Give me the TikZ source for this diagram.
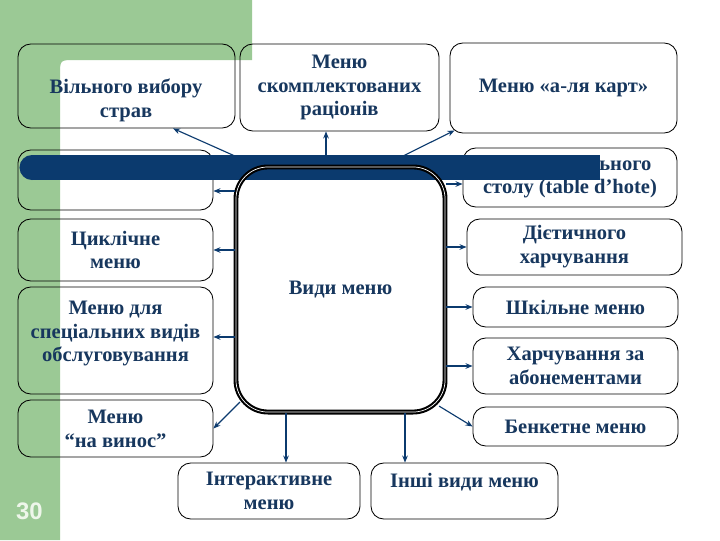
\documentclass[tikz,border=0pt]{standalone}
\usepackage{fontspec}
\setmainfont{Liberation Serif}
\setsansfont{Liberation Sans}
\usepackage{tikz}
\usetikzlibrary{arrows.meta}
\definecolor{menugreen}{HTML}{9BC995}
\definecolor{menunavy}{HTML}{0B3A6E}
\definecolor{menuink}{HTML}{17375E}
\definecolor{menupage}{HTML}{EEF6EA}

\begin{document}
\begin{tikzpicture}[x=0.025cm, y=-0.025cm,
  every node/.style={font=\fontsize{14.6}{17}\selectfont\bfseries, text=menuink},
  menubox/.style={draw=black, line width=0.6pt, rounded corners=0.32cm, align=center, inner sep=0pt},
  hub/.style={draw=black, double=white, double distance=0.5pt, line width=1.5pt, rounded corners=0.8cm, minimum width=5.225cm, minimum height=6.125cm},
  link/.style={-{Stealth[length=5pt,width=4pt]}, menunavy, line width=0.8pt}
]
  \useasboundingbox (0,0) rectangle (720,540);
  % slide background
  \fill[white] (0,0) rectangle (720,540);
  \fill[menugreen] (0,0) -- (252,0) -- (252,60) -- (75,60) .. controls (60,60) .. (60,75) -- (60,540) -- (0,540) -- cycle;
  \node[font=\sffamily\fontsize{17}{20}\selectfont\bfseries, text=menupage] (page) at (29.5,511) {30};

  % boxes round the hub
  \node[menubox, minimum width=5.425cm, minimum height=2.1cm] (vilnyi) at (126.5,86) {};
  \node[align=center] (vilnyitxt) at (126,100) {Вільного вибору\\страв};
  \node[menubox, minimum width=4.975cm, minimum height=2.175cm] (kompl) at (339.5,87.5) {Меню\\скомплектованих\\раціонів};
  \node[menubox, minimum width=5.675cm, minimum height=2.25cm] (alakart) at (563.5,88) {Меню «а-ля карт»};
  \node[menubox, minimum width=4.875cm, minimum height=1.5cm] (porozh) at (115.5,180) {};
  \node[menubox, minimum width=5.35cm, minimum height=1.475cm] (tabl) at (570,177.5) {\phantom{Меню загал}ьного\\столу (table d’hote)};
  \node[menubox, minimum width=4.875cm, minimum height=1.55cm] (tsykl) at (115.5,250) {Циклічне\\меню};
  \node[menubox, minimum width=4.875cm, minimum height=2.675cm] (spets) at (115.5,340.5) {};
  \node[align=center] (spetstxt) at (115.5,333.5) {Меню для\\спеціальних видів\\обслуговування};
  \node[menubox, minimum width=4.875cm, minimum height=1.425cm] (vynos) at (115.5,428.5) {Меню\\“на винос”};
  \node[menubox, minimum width=5.375cm, minimum height=1.4cm] (dietych) at (574.5,247) {Дієтичного\\харчування};
  \node[menubox, minimum width=5.125cm, minimum height=1.0cm] (shkil) at (575.5,307) {Шкільне меню};
  \node[menubox, minimum width=5.125cm, minimum height=1.4cm] (abon) at (575.5,366) {Харчування за\\абонементами};
  \node[menubox, minimum width=5.125cm, minimum height=0.975cm] (benket) at (575.5,426.5) {Бенкетне меню};
  \node[menubox, minimum width=4.55cm, minimum height=1.4cm] (interakt) at (269,491) {Інтерактивне\\меню};
  \node[menubox, minimum width=4.675cm, minimum height=1.4cm] (inshi) at (464.5,491) {};
  \node (inshitxt) at (464.5,482) {Інші види меню};

  % navy bar
  \fill[menunavy] (32,155) rectangle (600,180);
  \fill[menunavy] (32,167.5) circle[radius=0.3125cm];

  \node[hub] (vidy) at (340.5,289.5) {Види меню};

  \coordinate (komplfoot) at (326,156);
  \draw[link] (vidy.west |- 0,156) -- (vilnyi.south -| 173,0);
  \draw[link] (komplfoot) -- (komplfoot |- kompl.south);
  \draw[link] (403,156) -- ([shift={(5,-3)}]alakart.south west);
  \draw[link] (vidy.west |- 0,191) -- (porozh.east |- 0,191);
  \draw[link] (vidy.east |- 0,184) -- (tabl.west |- 0,184);
  \draw[link] (vidy.west |- tsykl.east) -- (tsykl.east);
  \draw[link] (vidy.west |- 0,337) -- (spets.east |- 0,337);
  \draw[link] ([shift={(5,-11)}]vidy.south west) -- (vynos.east);
  \draw[link] (vidy.east |- dietych.west) -- (dietych.west);
  \draw[link] (vidy.east |- shkil.west) -- (shkil.west);
  \draw[link] (vidy.east |- abon.west) -- (abon.west);
  \draw[link] ([shift={(-7,-7)}]vidy.south east) -- (benket.west);
  \draw[link] (vidy.south -| 286,0) -- (interakt.north -| 286,0);
  \draw[link] (vidy.south -| 405,0) -- (inshi.north -| 405,0);
\end{tikzpicture}
\end{document}
